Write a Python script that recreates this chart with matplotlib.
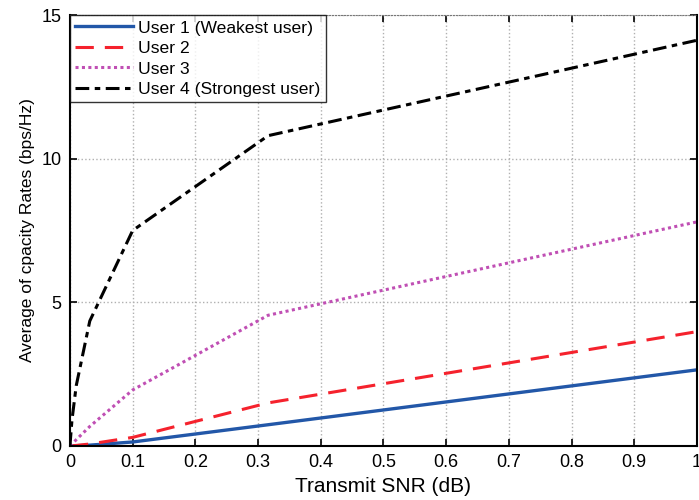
import numpy as np
import matplotlib
matplotlib.use("Agg")
import matplotlib.pyplot as plt

plt.rcParams['font.family'] = ['Liberation Sans', 'DejaVu Sans']

# transmit SNR points (linear)
snr = [0, 0.001, 0.00316, 0.01, 0.0316, 0.1, 0.316, 1.0]

# average capacity rates
user1 = [0, 0.001, 0.003, 0.01, 0.03, 0.14, 0.74, 2.65]
user2 = [0, 0.002, 0.006, 0.02, 0.07, 0.30, 1.50, 3.98]
user3 = [0, 0.02, 0.07, 0.22, 0.68, 1.95, 4.55, 7.80]
user4 = [0, 0.30, 0.90, 2.10, 4.35, 7.50, 10.80, 14.12]

labels = ["User 1 (Weakest user)", "User 2", "User 3", "User 4 (Strongest user)"]

fig = plt.figure(figsize=(6.99, 5.0), dpi=100)
ax = fig.add_axes([0.1001, 0.108, 0.8969, 0.862])

ax.plot(snr, user1, color="#2257a8", linewidth=2.4, linestyle="-", label=labels[0])
ax.plot(snr, user2, color="#f5222d", linewidth=2.2, linestyle=(0, (6, 3.6)), label=labels[1])
ax.plot(snr, user3, color="#c04fb4", linewidth=2.2, linestyle=(0, (1, 1.1)), label=labels[2])
ax.plot(snr, user4, color="black", linewidth=2.2, linestyle=(0, (4.5, 1.8, 1.8, 1.8)), label=labels[3])

ax.set_xlim(0, 1)
ax.set_ylim(0, 15)
ax.set_xticks(np.arange(0, 1.01, 0.1))
ax.set_xticklabels(["0", "0.1", "0.2", "0.3", "0.4", "0.5", "0.6", "0.7", "0.8", "0.9", "1"])
ax.set_yticks([0, 5, 10, 15])

ax.grid(True, color="#b0b0b0", linestyle=":", linewidth=1.0)
ax.tick_params(direction="in", length=5, width=1.2, labelsize=13,
               top=True, right=True, pad=6)
for side in ["left", "bottom", "right"]:
    ax.spines[side].set_linewidth(1.5)
ax.spines["top"].set_color("#777777")
ax.spines["top"].set_linestyle(":")

ax.set_xlabel("Transmit SNR (dB)", fontsize=15, labelpad=4)
ax.set_ylabel("Average of cpacity Rates (bps/Hz)", fontsize=12.5, labelpad=5)

leg = ax.legend(loc="upper left", fontsize=12.6, frameon=True, fancybox=False,
                borderaxespad=0, handlelength=3.3, handletextpad=0.3,
                labelspacing=0.3, borderpad=0.3)
leg.get_frame().set_edgecolor("black")
leg.get_frame().set_linewidth(1.0)

fig.savefig("out.png", dpi=100)
